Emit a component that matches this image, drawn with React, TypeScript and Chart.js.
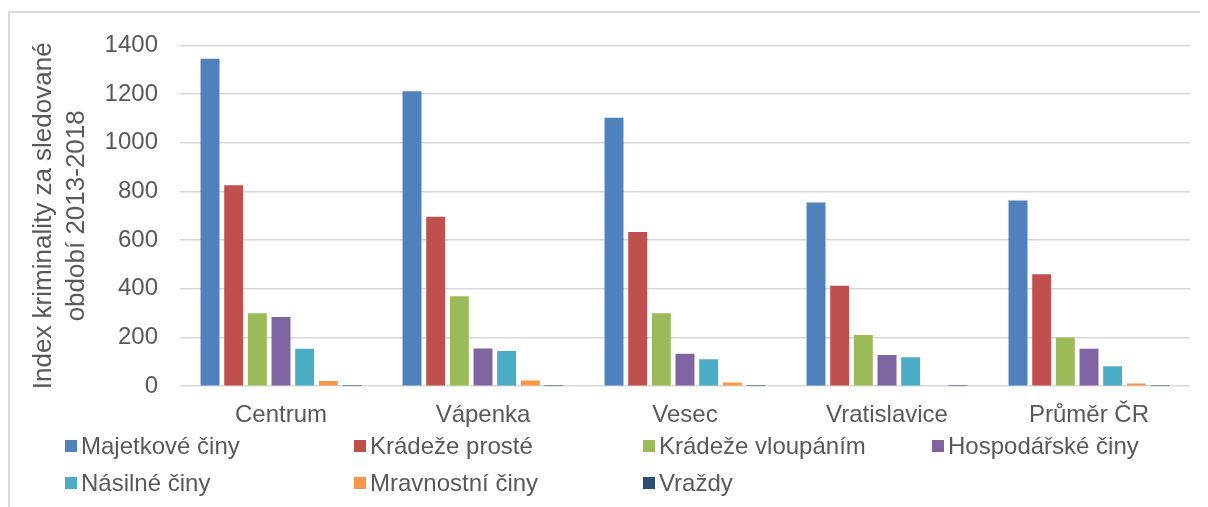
import React, { useEffect, useRef } from "react";
import { Chart, registerables } from "chart.js";

Chart.register(...registerables);

const categories = ["Centrum", "Vápenka", "Vesec", "Vratislavice", "Průměr ČR"];
const seriesNames = [
  "Majetkové činy",
  "Krádeže prosté",
  "Krádeže vloupáním",
  "Hospodářské činy",
  "Násilné činy",
  "Mravnostní činy",
  "Vraždy",
];
const majetkoveCiny = [1345, 1212, 1103, 755, 763];
const kradezeProste = [825, 696, 633, 413, 460];
const kradezeVloupanim = [300, 370, 300, 210, 200];
const hospodarskeCiny = [284, 155, 133, 128, 154];
const nasilneCiny = [154, 145, 111, 119, 82];
const mravnostniCiny = [21, 23, 15, 3, 11];
const vrazdy = [0.2, 0.2, 0.2, 0.1, 0.2];
const yTickValues = [0, 200, 400, 600, 800, 1000, 1200, 1400];
const yTitle = ["Index kriminality za sledované", "období 2013-2018"];

const seriesValues = [
  majetkoveCiny,
  kradezeProste,
  kradezeVloupanim,
  hospodarskeCiny,
  nasilneCiny,
  mravnostniCiny,
  vrazdy,
];
const seriesColors = ["#4F81BD", "#C0504D", "#9BBB59", "#8064A2", "#4BACC6", "#F79646", "#2C4D75"];

const FONT = "'Liberation Sans', Arial, sans-serif";
const TEXT = "#595959";

export default function App() {
  const ref = useRef<HTMLCanvasElement | null>(null);

  useEffect(() => {
    if (!ref.current) return;
    const chart = new Chart(ref.current, {
      type: "bar",
      data: {
        labels: categories,
        datasets: seriesNames.map((name, i) => ({
          label: name,
          data: seriesValues[i],
          backgroundColor: seriesColors[i],
          borderWidth: 0,
          categoryPercentage: 0.82,
          barPercentage: 0.8,
        })),
      },
      options: {
        animation: false,
        responsive: false,
        maintainAspectRatio: false,
        layout: { padding: { left: 0, right: 18, top: 20, bottom: 58 } },
        plugins: {
          legend: { display: false },
          tooltip: { enabled: false },
          title: { display: false },
        },
        scales: {
          x: {
            grid: { display: false, drawTicks: false },
            border: { display: false },
            ticks: {
              color: TEXT,
              font: { family: FONT, size: 24 },
              padding: 15,
              maxRotation: 0,
              autoSkip: false,
            },
          },
          y: {
            min: 0,
            max: 1400,
            afterBuildTicks: (scale: any) => {
              scale.ticks = yTickValues.map((v) => ({ value: v }));
            },
            afterFit: (scale: any) => {
              scale.width = 170;
            },
            grid: { color: "#d9d9d9", lineWidth: 1.6, drawTicks: false },
            border: { display: false },
            ticks: {
              color: TEXT,
              font: { family: FONT, size: 24 },
              padding: 22,
              callback: (v: any) => String(v),
            },
            title: {
              display: true,
              text: yTitle,
              color: TEXT,
              font: { family: FONT, size: 26, lineHeight: 1.24 },
              padding: { top: 18, bottom: 0 },
            },
          },
        },
      },
    });
    return () => chart.destroy();
  }, []);

  return (
    <div style={{ paddingTop: 3 }}>
      <div
        style={{
          position: "relative",
          width: 1198,
          height: 494,
          borderTop: "2px solid #d9d9d9",
          borderLeft: "2px solid #d9d9d9",
          background: "#fff",
        }}
      >
        <canvas ref={ref} width={1198} height={494} style={{ position: "absolute", left: 0, top: -4 }} />
        <div
          style={{
            position: "absolute",
            left: 55,
            top: 414,
            width: 1160,
            display: "flex",
            flexWrap: "wrap",
            fontFamily: FONT,
            fontSize: 24,
            color: TEXT,
          }}
        >
          {seriesNames.map((name, i) => (
            <div
              key={name}
              style={{ width: 289, height: 37, display: "flex", alignItems: "center", whiteSpace: "nowrap" }}
            >
              <span
                style={{
                  display: "inline-block",
                  width: 12,
                  height: 12,
                  background: seriesColors[i],
                  marginRight: 4,
                  flex: "none",
                }}
              />
              <span>{name}</span>
            </div>
          ))}
        </div>
      </div>
    </div>
  );
}
